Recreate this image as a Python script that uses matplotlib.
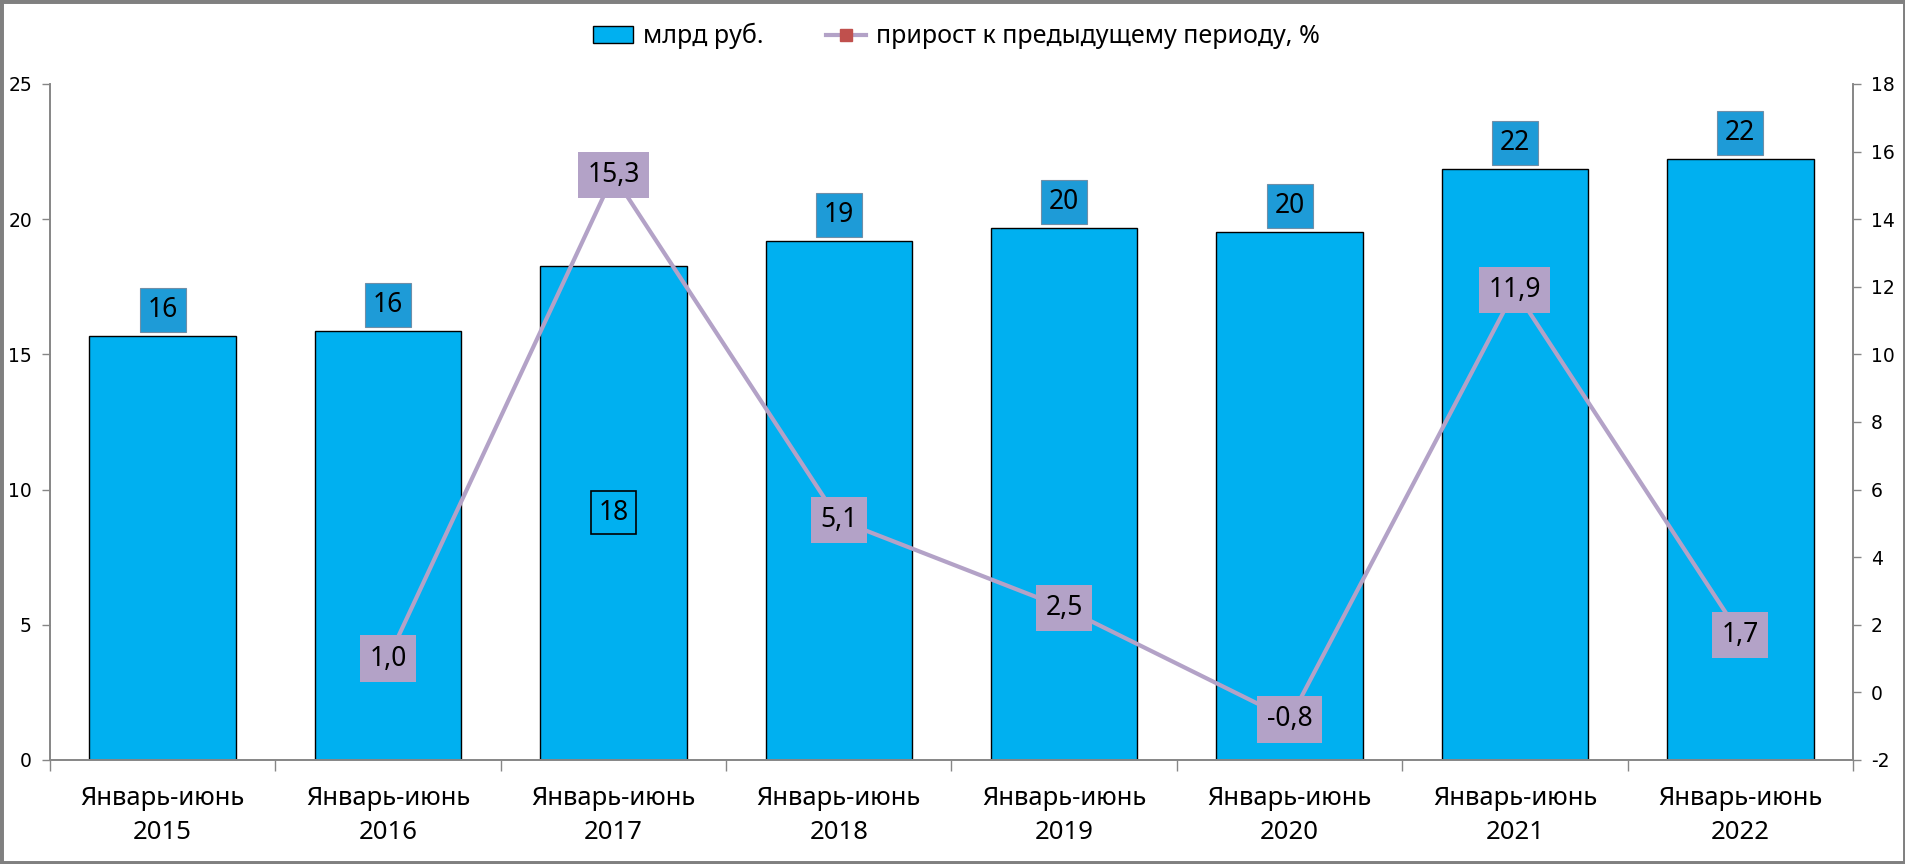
#!/usr/bin/env python3
"""Bars (bn rub.) with growth line on a secondary axis."""
import numpy as np
import matplotlib
matplotlib.use("Agg")
import matplotlib.pyplot as plt
from matplotlib.patches import Patch, Rectangle
from matplotlib.lines import Line2D

years = ["2015", "2016", "2017", "2018", "2019", "2020", "2021", "2022"]
values = [15.69, 15.88, 18.28, 19.20, 19.69, 19.54, 21.87, 22.23]
value_labels = ["16", "16", "18", "19", "20", "20", "22", "22"]
growth = [None, 1.0, 15.3, 5.1, 2.5, -0.8, 11.9, 1.7]
growth_labels = ["", "1,0", "15,3", "5,1", "2,5", "-0,8", "11,9", "1,7"]

BAR = "#00B0F0"
LAV = "#B3A2C7"
GRAY = "#868686"
TXT = "Noto Sans"

plt.rcParams["axes.unicode_minus"] = False

fig = plt.figure(figsize=(19.06, 8.64), dpi=100)
ax = fig.add_axes([0.0262, 0.1204, 0.9460, 0.7824])
ax2 = ax.twinx()

x = np.arange(len(years))
ax.bar(x, values, width=0.65, color=BAR, edgecolor="black", linewidth=1.0, zorder=2)

# bar value labels
for i, (v, lab) in enumerate(zip(values, value_labels)):
    if lab == "18":
        ax.text(i, v / 2, lab, ha="center", va="center", fontsize=19, family=TXT,
                bbox=dict(boxstyle="square,pad=0.28", facecolor="none",
                          edgecolor="black", linewidth=1.2), zorder=5)
    else:
        ax.annotate(lab, (i, v), xytext=(0, 18.5), textcoords="offset points",
                    ha="center", va="center", fontsize=19, family=TXT,
                    bbox=dict(boxstyle="square,pad=0.3", facecolor="#1E9BD7",
                              edgecolor="#6f8fa8", linewidth=0.8), zorder=5)

gx = [i for i, g in enumerate(growth) if g is not None]
gy = [g for g in growth if g is not None]
ax2.plot(gx, gy, color=LAV, linewidth=3, marker="s", markersize=8,
         markerfacecolor="#C0504D", markeredgecolor="#C0504D", zorder=3)
for i, g in zip(gx, gy):
    ax2.text(i, g, growth_labels[i], ha="center", va="center", fontsize=19, family=TXT,
             bbox=dict(boxstyle="square,pad=0.35", facecolor=LAV, edgecolor="none"),
             zorder=6)

ax.set_xlim(-0.5, len(years) - 0.5)
ax.set_ylim(0, 25)
ax.set_yticks(np.arange(0, 26, 5))
ax2.set_ylim(-2, 18)
ax2.set_yticks(np.arange(-2, 19, 2))

ax.set_xticks(x)
ax.set_xticklabels(["Январь-июнь\n" + y for y in years], fontsize=18.5, family=TXT,
                   linespacing=1.45)
ax.set_xticks(np.arange(-0.5, len(years)), minor=True)
ax.tick_params(axis="x", which="major", length=0, pad=19)
ax.tick_params(axis="x", which="minor", length=8, color=GRAY, width=1)
ax.tick_params(axis="y", length=6, color=GRAY, width=1, labelsize=13.5, pad=7)
ax2.tick_params(axis="y", length=6, color=GRAY, width=1, labelsize=13.5, pad=7)

for a in (ax, ax2):
    a.spines["top"].set_visible(False)
    for s in ("left", "right", "bottom"):
        a.spines[s].set_color(GRAY)
        a.spines[s].set_linewidth(1.2)

handles = [
    Patch(facecolor=BAR, edgecolor="black", linewidth=1.0),
    Line2D([0], [0], color=LAV, linewidth=3, marker="s", markersize=8,
           markerfacecolor="#C0504D", markeredgecolor="#C0504D"),
]
fig.legend(handles, ["млрд руб.", "прирост к предыдущему периоду, %"],
           loc="center", bbox_to_anchor=(0.502, 0.958), ncol=2, frameon=False,
           prop={"family": TXT, "size": 18}, columnspacing=2.5,
           handlelength=1.6, handletextpad=0.4)

# outer frame
fig.patches.append(Rectangle((0, 0), 1, 1, transform=fig.transFigure,
                             fill=False, edgecolor="#808080", linewidth=5))

fig.savefig("out.png", dpi=100)
